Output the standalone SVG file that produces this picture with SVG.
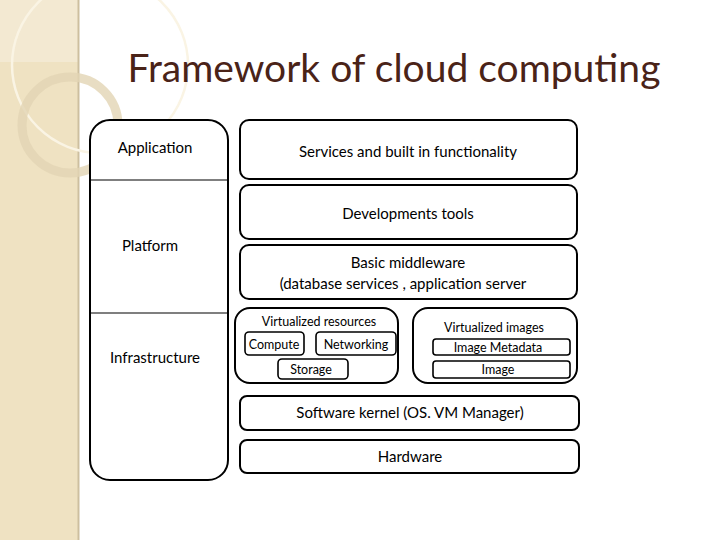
<svg xmlns="http://www.w3.org/2000/svg" width="720" height="540" viewBox="0 0 720 540">
<style>
.b{fill:#fff;stroke:#000;stroke-width:2}
.s{fill:#fff;stroke:#000;stroke-width:1.6}
text{font-family:Lato,"Open Sans",sans-serif;fill:#000;text-anchor:middle}
.t{font-size:15px}
.m{font-size:12.5px}
</style>
<rect width="720" height="540" fill="#fff"/>
<g id="sidebar">
<rect x="0" y="0" width="78" height="540" fill="#efe2c2"/>
<rect x="0" y="0" width="78" height="62" fill="#f3e9d2"/>
<line x1="78.5" y1="0" x2="78.5" y2="540" stroke="#cdbf9f" stroke-width="2"/>
<circle cx="100" cy="65" r="88" fill="none" stroke="#faf4e4" stroke-width="2.5"/>
<circle cx="70" cy="125" r="48" fill="none" stroke="#e2d4b4" stroke-width="9" opacity="0.8"/>
</g>
<text x="394" y="82" style="font-size:39px;fill:#4a2318">Framework of cloud computing</text>
<g id="left">
<rect class="b" x="90" y="120" width="138" height="360" rx="20"/>
<line x1="90" y1="180" x2="228" y2="180" stroke="#000" stroke-width="1.2"/>
<line x1="90" y1="313" x2="228" y2="313" stroke="#000" stroke-width="1.2"/>
<text class="t" x="155" y="153">Application</text>
<text class="t" x="150" y="251">Platform</text>
<text class="t" x="155" y="363">Infrastructure</text>
</g>
<g id="services"><rect class="b" x="240" y="120" width="337" height="59" rx="9"/><text class="t" x="408" y="157">Services and built in functionality</text></g>
<g id="devtools"><rect class="b" x="240" y="185" width="337" height="54" rx="9"/><text class="t" x="408" y="219">Developments tools</text></g>
<g id="middleware"><rect class="b" x="240" y="245" width="337" height="54" rx="9"/><text class="t" x="408" y="268">Basic  middleware</text><text class="t" x="403" y="289">(database services ,  application server</text></g>
<g id="vres"><rect class="b" x="235" y="308" width="163" height="75" rx="15"/><text class="m" x="319" y="326">Virtualized resources</text></g>
<g id="compute"><rect class="s" x="245" y="332" width="59" height="23" rx="4"/><text class="m" x="274" y="349">Compute</text></g>
<g id="networking"><rect class="s" x="316" y="332" width="80" height="23" rx="4"/><text class="m" x="356" y="349">Networking</text></g>
<g id="storage"><rect class="s" x="278" y="359" width="70" height="20" rx="4"/><text class="m" x="311" y="374">Storage</text></g>
<g id="vimg"><rect class="b" x="413" y="308" width="164" height="75" rx="15"/><text class="m" x="494" y="332">Virtualized images</text></g>
<g id="meta"><rect class="s" x="433" y="339" width="137" height="16" rx="3"/><text class="m" x="498" y="352">Image Metadata</text></g>
<g id="image"><rect class="s" x="433" y="361" width="137" height="17" rx="3"/><text class="m" x="498" y="374">Image</text></g>
<g id="kernel"><rect class="b" x="240" y="396" width="339" height="34" rx="7"/><text class="t" x="410" y="418">Software kernel (OS. VM Manager)</text></g>
<g id="hardware"><rect class="b" x="240" y="440" width="339" height="33" rx="7"/><text class="t" x="410" y="462">Hardware</text></g>
<g id="connectors"/>
</svg>
